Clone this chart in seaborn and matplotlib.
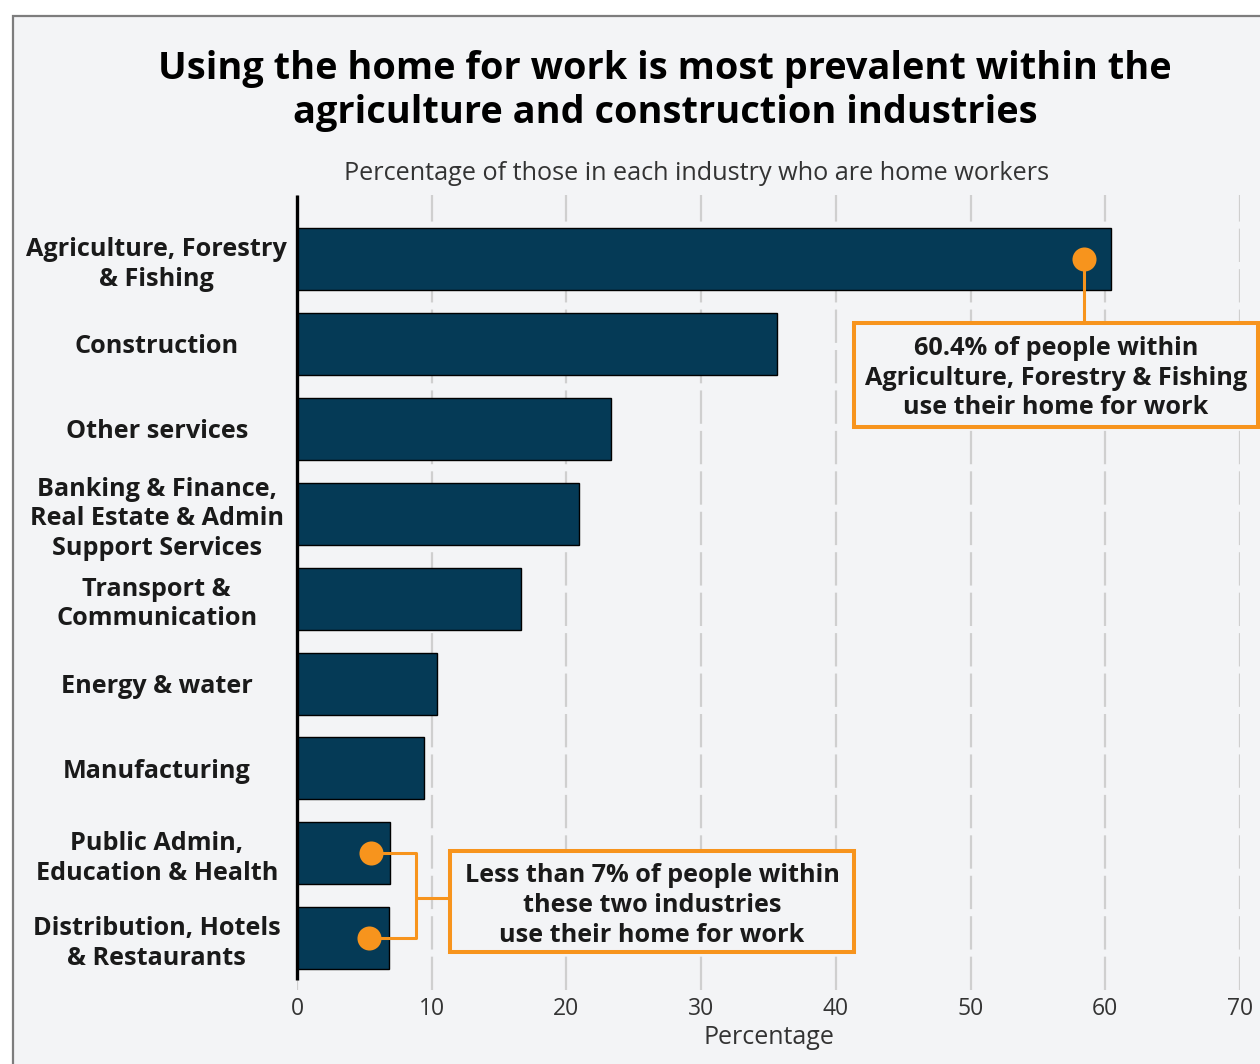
import matplotlib
matplotlib.use("Agg")
import matplotlib.pyplot as plt
import seaborn as sns
import pandas as pd
from matplotlib.patches import Rectangle

# --- data -------------------------------------------------------------
industries = [
    "Agriculture, Forestry\n& Fishing",
    "Construction",
    "Other services",
    "Banking & Finance,\nReal Estate & Admin\nSupport Services",
    "Transport &\nCommunication",
    "Energy & water",
    "Manufacturing",
    "Public Admin,\nEducation & Health",
    "Distribution, Hotels\n& Restaurants",
]
home_worker_pct = [60.4, 35.6, 23.3, 20.9, 16.6, 10.4, 9.4, 6.9, 6.8]
x_ticks = [0, 10, 20, 30, 40, 50, 60, 70]

title = ("Using the home for work is most prevalent within the\n"
         "agriculture and construction industries")
subtitle = "Percentage of those in each industry who are home workers"
x_label = "Percentage"
note_top = ("60.4% of people within\nAgriculture, Forestry & Fishing\n"
            "use their home for work")
note_low = ("Less than 7% of people within\nthese two industries\n"
            "use their home for work")

# --- style ------------------------------------------------------------
NAVY = "#053a56"
ORANGE = "#f7941d"
PANEL = "#f3f4f6"
TEXT = "#1a1a1a"

sns.set_style("white")
plt.rcParams["font.family"] = ["Open Sans", "DejaVu Sans"]

W, H = 1260, 1064
fig = plt.figure(figsize=(W / 100, H / 100), dpi=100)
fig.patch.set_facecolor("white")

# framed light panel behind everything
fig.add_artist(Rectangle((13 / W, -0.05), 1.1, 1 - 16 / H + 0.05,
                         transform=fig.transFigure, facecolor=PANEL,
                         edgecolor="#7d7d7d", lw=1.6, zorder=-5))

ax = fig.add_axes([297 / W, 1 - 990 / H, (1240 - 297) / W, (990 - 195) / H])
ax.set_facecolor("none")

df = pd.DataFrame({"industry": industries, "pct": home_worker_pct})
sns.barplot(data=df, x="pct", y="industry", orient="h", color=NAVY,
            saturation=1, width=0.73, edgecolor="black", linewidth=1,
            ax=ax, zorder=2)

ax.set_xlim(0, 70)
ax.set_ylim(8.61, -0.754)
ax.set_xticks(x_ticks)
ax.set_xticklabels([str(t) for t in x_ticks])
ax.set_axisbelow(True)
ax.xaxis.grid(True, color="#cfcfcf", lw=1.6, linestyle=(0, (15, 3.2)))
ax.yaxis.grid(False)
for s in ax.spines.values():
    s.set_visible(False)

# vertical baseline at zero
ax.plot([0, 0], [-0.754, 8.49], color="black", lw=2.4, zorder=4,
        clip_on=False, solid_capstyle="butt")

ax.tick_params(axis="x", length=0, pad=5, labelsize=16.5, labelcolor="#333333")
ax.tick_params(axis="y", length=0, pad=101, labelsize=18.2, labelcolor=TEXT)
for lbl in ax.get_yticklabels():
    lbl.set_ha("center")
    lbl.set_multialignment("center")
    lbl.set_fontweight("bold")
    lbl.set_linespacing(1.24)

ax.set_ylabel("")
ax.set_xlabel(x_label, fontsize=18, color="#333333", labelpad=3)

fig.text(665 / W, 1 - 91 / H, title, ha="center", va="center",
         fontsize=27.3, fontweight="bold", color="black", linespacing=1.2)
fig.text(697 / W, 1 - 173 / H, subtitle, ha="center", va="center",
         fontsize=18.2, color="#333333")

# --- callouts ----------------------------------------------------------
note_kw = dict(ha="center", va="center", fontsize=18.2, fontweight="bold",
               color=TEXT, linespacing=1.24, zorder=6)

# top callout: agriculture
ax.scatter([58.4], [0], s=300, color=ORANGE, zorder=6, clip_on=False,
           linewidths=0)
ax.plot([58.4, 58.4], [0, 0.754], color=ORANGE, lw=2.2, zorder=5,
        clip_on=False)
ax.add_patch(Rectangle((41.35, 0.754), 71.3 - 41.35, 1.98 - 0.754,
                       facecolor=PANEL, edgecolor=ORANGE, lw=2.9,
                       zorder=5, clip_on=False))
ax.text((41.35 + 71.3) / 2, 1.405, note_top, **note_kw)

# lower callout: the two smallest industries
ax.scatter([5.5, 5.35], [7, 8], s=300, color=ORANGE, zorder=6,
           clip_on=False, linewidths=0)
ax.plot([5.5, 8.83, 8.83, 5.35], [7, 7, 8, 8], color=ORANGE, lw=2.2,
        zorder=5, clip_on=False)
ax.plot([8.83, 11.36], [7.53, 7.53], color=ORANGE, lw=2.2, zorder=5,
        clip_on=False)
ax.add_patch(Rectangle((11.36, 6.975), 41.35 - 11.36, 8.165 - 6.975,
                       facecolor=PANEL, edgecolor=ORANGE, lw=2.9,
                       zorder=5, clip_on=False))
ax.text((11.36 + 41.35) / 2, 7.615, note_low, **note_kw)

fig.savefig("out.png", dpi=100, facecolor=fig.get_facecolor())
